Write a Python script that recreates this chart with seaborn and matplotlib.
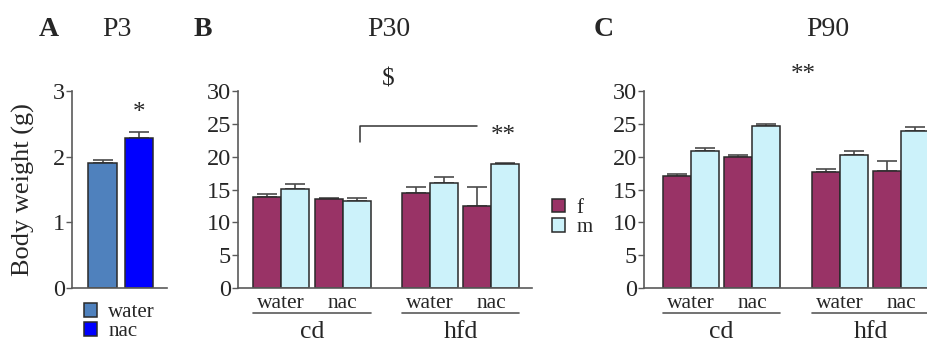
import matplotlib.pyplot as plt
import numpy as np
import pandas as pd
import seaborn as sns

# ---- data ----
# panel A, P3
p3_groups = ['water', 'nac']
p3_weight = [1.91, 2.28]
p3_sem = [0.04, 0.09]

# panels B/C, order of entries: cd-water, cd-nac, hfd-water, hfd-nac
diets = ['cd', 'hfd']
treatments = ['water', 'nac']
sexes = ['f', 'm']

p30_f = [13.8, 13.5, 14.4, 12.5]
p30_m = [15.07, 13.2, 16.0, 18.95]
p30_f_sem = [0.45, 0.25, 1.0, 2.9]
p30_m_sem = [0.75, 0.55, 0.95, 0.06]

p90_f = [17.1, 19.9, 17.7, 17.85]
p90_m = [20.85, 24.6, 20.2, 23.95]
p90_f_sem = [0.3, 0.3, 0.35, 1.45]
p90_m_sem = [0.4, 0.3, 0.65, 0.6]

# ---- style ----
P3_COLORS = ['#4F81BD', '#0000FF']
SEX_COLORS = ['#993366', '#CCF2FA']
EDGE = '#2a2a2a'
AXCOL = '#5a5a5a'
ERRCOL = '#4a4a4a'
GROUP_GAP = 0.42  # extra space between the diet groups (slot units)
BAR_W = 0.91

sns.set_style('ticks')
plt.rcParams['font.family'] = ['Liberation Serif', 'DejaVu Serif']

W, H = 928, 342


def px_axes(fig, left, right, top, bottom):
    return fig.add_axes([left / W, 1 - bottom / H, (right - left) / W,
                         (bottom - top) / H])


def build_frame(f, m, f_sem, m_sem):
    rows = []
    for i, (vf, vm, ef, em) in enumerate(zip(f, m, f_sem, m_sem)):
        d, t = divmod(i, 2)
        pos = t + d * (2 + GROUP_GAP)
        rows.append((diets[d], treatments[t], 'f', vf, ef, pos))
        rows.append((diets[d], treatments[t], 'm', vm, em, pos))
    return pd.DataFrame(rows, columns=['diet', 'treatment', 'sex',
                                       'weight', 'sem', 'pos'])


def style_axis(ax, ymax, yticks):
    sns.despine(ax=ax)
    for s in ['left', 'bottom']:
        ax.spines[s].set_color(AXCOL)
        ax.spines[s].set_linewidth(1.2)
    ax.set_ylim(0, ymax)
    ax.set_yticks(yticks)
    ax.tick_params(axis='y', length=4, width=1, color=AXCOL, pad=1,
                   labelsize=17.5)
    ax.set_xlabel('')
    ax.set_ylabel('')


def add_errors(ax, errs_per_container):
    for cont, errs in zip(ax.containers, errs_per_container):
        xs = [b.get_x() + b.get_width() / 2 for b in cont]
        tops = [b.get_height() for b in cont]
        ax.errorbar(xs, tops, yerr=[np.zeros(len(errs)), errs], fmt='none',
                    ecolor=ERRCOL, elinewidth=1.2, capsize=7, capthick=1.2,
                    zorder=0.5)


def draw_sex_panel(ax, df, xlim, legend=False):
    sns.barplot(data=df, x='pos', y='weight', hue='sex', hue_order=sexes,
                palette=SEX_COLORS, saturation=1, native_scale=True,
                width=BAR_W, errorbar=None, edgecolor=EDGE, linewidth=1.1,
                ax=ax, legend=legend)
    errs = [df[df.sex == s].sort_values('pos')['sem'].values for s in sexes]
    add_errors(ax, errs)
    style_axis(ax, 30, [0, 5, 10, 15, 20, 25, 30])
    ax.set_xlim(*xlim)

    centers = sorted(df['pos'].unique())
    ax.set_xticks(centers, treatments * 2)
    ax.tick_params(axis='x', length=0, pad=4, labelsize=15.5)

    trans = ax.get_xaxis_transform()
    for d, diet in enumerate(diets):
        c0, c1 = centers[2 * d], centers[2 * d + 1]
        ax.plot([c0 - BAR_W / 2, c1 + BAR_W / 2], [-0.127, -0.127],
                transform=trans, clip_on=False, color=AXCOL, lw=1.2)
        ax.text((c0 + c1) / 2, -0.255, diet, transform=trans,
                ha='center', va='baseline', fontsize=18.5)


fig = plt.figure(figsize=(W / 100, H / 100), dpi=100)

# ---- panel A ----
ax_a = px_axes(fig, 72, 167, 91, 288)
sns.barplot(x=p3_groups, y=p3_weight, hue=p3_groups, palette=P3_COLORS,
            saturation=1, width=0.79, errorbar=None, edgecolor=EDGE,
            linewidth=1.1, ax=ax_a, legend=True)
add_errors(ax_a, [[e] for e in p3_sem])
style_axis(ax_a, 3, [0, 1, 2, 3])
ax_a.set_xlim(-0.836, 1.767)
ax_a.set_xticks([])
ax_a.set_ylabel('Body weight (g)', fontsize=19, labelpad=13)
ax_a.text(1, 2.66, '*', ha='center', va='center', fontsize=18)
sns.move_legend(ax_a, 'upper left', bbox_to_anchor=(84 / W, 1 - 303 / H),
                bbox_transform=fig.transFigure, frameon=False, fontsize=15,
                handlelength=0.62, handleheight=0.62, handletextpad=0.55,
                labelspacing=0.0, borderpad=0, borderaxespad=0, title=None)

# ---- panel B ----
ax_b = px_axes(fig, 238, 532, 91, 288)
df30 = build_frame(p30_f, p30_m, p30_f_sem, p30_m_sem)
draw_sex_panel(ax_b, df30, (-0.70, 4.08))
ax_b.plot([1.28, 1.28, 3.19], [22.2, 24.65, 24.65], color='#333333',
          lw=1.1, clip_on=False)
ax_b.text(3.61, 23.2, '**', ha='center', va='center', fontsize=18)
ax_b.text(1.74, 31.8, '$', ha='center', va='center', fontsize=18)

# ---- panel C ----
ax_c = px_axes(fig, 644, 942, 91, 288)
df90 = build_frame(p90_f, p90_m, p90_f_sem, p90_m_sem)
draw_sex_panel(ax_c, df90, (-0.76, 4.08), legend=True)
ax_c.text(1.82, 32.4, '**', ha='center', va='center', fontsize=18)
sns.move_legend(ax_c, 'upper left', bbox_to_anchor=(552 / W, 1 - 199 / H),
                bbox_transform=fig.transFigure, frameon=False, fontsize=15,
                handlelength=0.62, handleheight=0.62, handletextpad=0.55,
                labelspacing=0.0, borderpad=0, borderaxespad=0, title=None)

# ---- titles ----
for x, s, w in [(49, 'A', 'bold'), (117, 'P3', 'normal'),
                (203, 'B', 'bold'), (389, 'P30', 'normal'),
                (604, 'C', 'bold'), (828, 'P90', 'normal')]:
    fig.text(x / W, 1 - 29 / H, s, ha='center', va='center', fontsize=20,
             fontweight=w)

fig.savefig('out.png', dpi=100)
